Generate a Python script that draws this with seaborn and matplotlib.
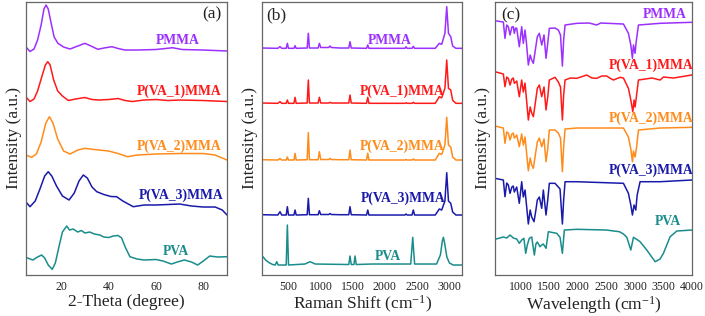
import pandas as pd
import matplotlib
matplotlib.use('Agg')
import matplotlib.pyplot as plt
import seaborn as sns

sns.set_theme(style='white')
plt.rcParams['font.family'] = ['Liberation Serif', 'DejaVu Serif']
plt.rcParams['mathtext.fontset'] = 'custom'
plt.rcParams['mathtext.rm'] = 'Liberation Serif'
plt.rcParams['mathtext.it'] = 'Liberation Serif:italic'

samples = ['PMMA', 'P(VA_1)MMA', 'P(VA_2)MMA', 'P(VA_3)MMA', 'PVA']
colors = ['#9B30FF', '#FF1A1A', '#FF8C1A', '#1A1AAA', '#1A8C8C']

# ---------------- (a) XRD ----------------
xrd_pmma_t = [5, 6.8, 8.5, 10, 11.5, 12.7, 13.6, 14.5, 15.9, 17, 18.6, 21, 23.7, 27, 30, 33, 35.5, 38, 41.4, 44, 46.9, 52, 60, 64, 67, 71, 80, 90]
xrd_pmma_i = [228.3, 223.5, 226, 235, 250, 266, 270, 266, 250, 238, 231.7, 228, 226, 229, 231.7, 228.5, 225.7, 227, 228.3, 226.5, 225, 225, 225.5, 226.5, 227.3, 225.5, 225, 224]
xrd_va1_t = [5, 6.8, 8.5, 10, 12, 13.3, 14.3, 15.3, 16.8, 18.5, 20.5, 23, 26, 30, 33, 36, 40, 44, 47, 50, 55, 60, 65, 70, 80, 90]
xrd_va1_i = [178.3, 173.5, 176, 184, 200, 210, 213.3, 210, 195, 184, 179, 174.5, 176, 177.5, 175.5, 175, 175.5, 176.5, 174.5, 173.5, 175, 175.5, 174.5, 175, 174.5, 173.5]
xrd_va2_t = [5, 7.5, 9.5, 11.5, 13.5, 15, 16.5, 18.5, 21, 23.7, 27, 30, 34, 40, 44, 48, 52, 60, 70, 80, 85, 90]
xrd_va2_i = [120, 117.7, 121, 133, 152, 158.3, 152, 136, 124, 121, 125, 126.7, 125.5, 124, 121.5, 118.3, 120, 121, 121.5, 121.5, 120, 115]
xrd_va3_t = [5, 6.8, 9, 11, 13, 14.5, 16, 18, 20.5, 23.3, 25.5, 27.5, 29.3, 31, 33, 35, 38, 41, 43.4, 46, 50.4, 55, 60, 65, 70, 75, 80, 85, 88, 90]
xrd_va3_i = [73.3, 68.3, 74, 86, 99, 103.3, 99, 89, 79, 75, 82, 94, 100, 97, 88, 83.3, 80.5, 78.5, 78.3, 74, 68.3, 70, 70, 70.5, 71, 69, 68, 68, 65, 60]
xrd_pva_t = [5, 8, 10, 11.7, 13, 14.5, 16.2, 17.5, 19, 20.5, 22.3, 23.5, 25, 27, 28.5, 30, 32, 34, 36.3, 38, 40, 42, 44, 45.5, 47, 49, 52, 55, 60, 63, 66.5, 69, 72, 75, 77.6, 80, 82.7, 86, 90]
xrd_pva_i = [17.7, 15, 18, 20, 17, 10, 5.7, 12, 28, 43, 49, 45, 46, 43, 44.5, 42, 43, 41, 40, 38, 37.5, 39, 39.5, 37, 28, 18.3, 16, 15, 15.5, 14, 11, 13, 15, 13, 10, 14, 19, 18, 18.3]

# ---------------- (b) Raman ----------------
raman_shift = [100, 340, 374, 400, 470, 488, 505, 590, 607, 625, 795, 813, 830, 965, 984, 1005, 1130, 1149, 1170, 1300, 1440, 1459, 1478,
               1715, 1734, 1752, 2000, 2310, 2327, 2345, 2420, 2440, 2460, 2780, 2843, 2880, 2930, 2958, 2985, 3020, 3050, 3100, 3200]
raman_pmma = [227, 226.7, 228.4, 226.7, 226.7, 231.7, 226.7, 226.7, 229.3, 226.7, 227, 241.7, 227, 227, 231.7, 227.5, 227.5, 229, 227.5, 227, 227, 233.3, 227,
              226.7, 230, 226.7, 226.7, 226.7, 228.2, 226.7, 226.7, 228.7, 226.7, 226.7, 231.7, 230.7, 241.7, 268.3, 241.7, 238.3, 229, 226.7, 226.7]
raman_va1 = [172, 171.7, 173.4, 171.7, 171.7, 175, 171.7, 171.7, 177.7, 171.7, 172, 195, 172, 172, 177.7, 172, 172, 172.7, 172, 172, 172, 180, 172,
             171.7, 177.7, 171.7, 171.7, 171.7, 172.2, 171.7, 171.7, 172.7, 171.7, 171.7, 178.3, 177.2, 186.7, 215, 186.7, 185, 174.7, 171.7, 171.7]
raman_va2 = [115.3, 115, 116.5, 115, 115, 118, 115, 115, 121.7, 115, 115.3, 142.3, 115.3, 115.3, 123.3, 115.5, 115.5, 116.5, 115.5, 115.3, 115.3, 125, 115.3,
             115, 121.7, 115, 115, 115, 115.5, 115, 115, 116, 115, 115, 121.7, 120.5, 130, 157.7, 130, 128, 118, 115, 115]
raman_va3 = [60.3, 60, 63.3, 60, 60, 68.3, 60, 60, 65, 60, 60.3, 76.7, 60.3, 60.3, 64.3, 60.5, 60.5, 61.5, 60.5, 60.3, 60.3, 68.3, 60.3,
             60, 65, 60, 60, 60, 61, 60, 60, 65, 60, 60, 66, 65, 74, 102.3, 74, 71.7, 63, 60, 60]
raman_pva_shift = [110, 150, 200, 260, 300, 323, 345, 470, 488, 506, 760, 840, 920, 1440, 1459, 1478, 1520, 1537, 1555, 1800, 2400, 2431, 2460,
                   2800, 2860, 2890, 2906, 2925, 2960, 3000, 3060, 3200]
raman_pva = [18.3, 15, 12.5, 10.5, 10, 13.3, 10, 10, 50, 10, 11, 13.3, 11, 10.5, 19, 10.5, 10.5, 19, 10.5, 11, 11, 37.7, 11,
             11, 20, 34, 37.7, 32, 18, 12, 10, 10]

# ---------------- (c) FTIR ----------------
ftir_pmma_w = [555, 701, 730, 760, 788, 818, 850, 875, 893, 915, 935, 980, 1022, 1050, 1080, 1105, 1138, 1170, 1197, 1225, 1260, 1295, 1330, 1372, 1412,
               1447, 1477, 1505, 1605, 1662, 1700, 1733, 1755, 1780, 1985, 2200, 2334, 2400, 2800, 2887, 2929, 2957, 2975, 3004, 3020, 3062, 3441, 3600, 3995]
ftir_pmma_t = [254.3, 253, 236.7, 250, 248.3, 240, 248, 248.3, 241.7, 247, 246.7, 228.3, 248.3, 231.7, 245, 232, 210, 220, 215, 211.7, 225, 238.3, 241.7, 230, 240,
               216.7, 231.7, 246.7, 247, 245, 240, 209, 235, 250, 251.7, 252, 250, 252, 251, 241.7, 230, 216.7, 230, 221.7, 232, 250, 251.7, 252, 252.7]
ftir_va1_w = [555, 701, 730, 760, 788, 818, 850, 875, 893, 935, 980, 1022, 1050, 1080, 1138, 1170, 1197, 1225, 1260, 1295, 1330, 1372, 1412, 1447, 1477,
              1505, 1605, 1662, 1700, 1733, 1755, 1780, 1870, 1985, 2159, 2250, 2334, 2420, 2509, 2560, 2625, 2742, 2800, 2887, 2929, 2964, 2986, 3004,
              3030, 3062, 3300, 3441, 3500, 3674, 3995]
ftir_va1_t = [203.3, 201, 188.3, 198, 196.7, 190, 196, 197, 191.7, 194, 178.3, 195, 183, 192, 155, 168, 162, 158.3, 172, 186.7, 190, 178.3, 188, 165, 178,
              195, 197.7, 193, 188, 155, 180, 195, 197, 196.7, 200, 197, 196.7, 199, 199, 197, 195, 197.7, 197, 186.7, 175, 163.3, 175, 168,
              180, 195, 197, 195, 198, 197, 200]
ftir_va2_w = [555, 701, 730, 760, 788, 818, 850, 875, 893, 935, 980, 1022, 1050, 1080, 1138, 1170, 1197, 1225, 1260, 1295, 1330, 1372, 1412, 1447, 1477,
              1505, 1605, 1662, 1700, 1733, 1755, 1780, 1985, 2334, 2800, 2887, 2929, 2957, 2975, 3004, 3030, 3062, 3441, 3995]
ftir_va2_t = [149, 147, 131.7, 143, 142, 135, 141, 142, 137, 140, 128.3, 141, 130, 138, 104.3, 117, 110, 106.7, 120, 133, 137, 128.3, 136, 113.3, 126,
              145, 145, 142, 137, 103.3, 128, 146, 147, 147, 147, 138, 126, 113.3, 124, 118, 128, 145, 147, 147.7]
ftir_va3_w = [555, 701, 730, 760, 788, 818, 850, 875, 893, 935, 980, 1022, 1050, 1080, 1138, 1170, 1197, 1237, 1270, 1295, 1330, 1372, 1400, 1447, 1477,
              1505, 1605, 1692, 1733, 1755, 1780, 1985, 2800, 2887, 2929, 2957, 2986, 3016, 3040, 3091, 3441, 3995]
ftir_va3_t = [96.7, 95, 78.3, 92, 90, 81.7, 88, 89, 83, 88, 71.7, 93.3, 78, 85, 51, 65, 58, 53.3, 65, 75, 78, 66.7, 85, 60, 75,
              91.7, 91.7, 86, 51, 75, 93.3, 93.3, 91.7, 81.7, 70, 60, 70, 65, 80, 93.3, 93.3, 95]
ftir_pva_w = [555, 701, 760, 818, 875, 935, 980, 1022, 1060, 1092, 1120, 1155, 1197, 1243, 1270, 1295, 1342, 1372, 1400, 1447, 1488, 1634, 1692,
              1733, 1767, 1985, 2500, 2730, 2800, 2859, 2929, 2975, 3050, 3091, 3208, 3354, 3440, 3499, 3616, 3733, 3995]
ftir_pva_t = [35.7, 38, 37, 40, 37, 36, 31.7, 35, 36.7, 21.7, 30, 36.7, 38, 20, 31, 33, 28.3, 30, 31, 26.7, 43.3, 41.7, 37.7,
              21.7, 45, 45.7, 45, 43.3, 41, 37.7, 25, 37.7, 35, 33.3, 25, 13.3, 16, 21.7, 38.3, 44, 45]

# label anchors (x in data units, y in a.u.)
lab_a = [(69.2, 235), (69.6, 183.3), (69.6, 128.3), (70.5, 80), (68.6, 23.3)]
lab_b = [(2079, 235), (2261, 183.3), (2261, 128.3), (2281, 76.7), (2048, 19)]
lab_c = [(3529, 261), (3284, 210), (3284, 156.7), (3284, 105), (3581, 53.3)]


def long_df(pairs):
    frames = []
    for name, (x, y) in zip(samples, pairs):
        frames.append(pd.DataFrame({'x': x, 'y': y, 'sample': name}))
    return pd.concat(frames, ignore_index=True)


df_a = long_df([(xrd_pmma_t, xrd_pmma_i), (xrd_va1_t, xrd_va1_i), (xrd_va2_t, xrd_va2_i),
                (xrd_va3_t, xrd_va3_i), (xrd_pva_t, xrd_pva_i)])
df_b = long_df([(raman_shift, raman_pmma), (raman_shift, raman_va1), (raman_shift, raman_va2),
                (raman_shift, raman_va3), (raman_pva_shift, raman_pva)])
df_c = long_df([(ftir_pmma_w, ftir_pmma_t), (ftir_va1_w, ftir_va1_t), (ftir_va2_w, ftir_va2_t),
                (ftir_va3_w, ftir_va3_t), (ftir_pva_w, ftir_pva_t)])

fig = plt.figure(figsize=(7.05, 3.16), dpi=100)
ax_a = fig.add_axes([0.0365, 0.1297, 0.2855, 0.8655])
ax_b = fig.add_axes([0.3721, 0.1297, 0.2837, 0.8655])
ax_c = fig.add_axes([0.7017, 0.1297, 0.2800, 0.8655])

panels = [
    (ax_a, df_a, (5, 90), [20, 40, 60, 80], 5, '2-Theta (degree)', '(a)', (83.5, 261), lab_a),
    (ax_b, df_b, (100, 3200), [500, 1000, 1500, 2000, 2500, 3000], 250,
     'Raman Shift (cm$^{\\mathregular{-1}}$)', '(b)', (312, 260), lab_b),
    (ax_c, df_c, (550, 4000), [1000, 1500, 2000, 2500, 3000, 3500, 4000], 250,
     'Wavelength (cm$^{\\mathregular{-1}}$)', '(c)', (826, 260), lab_c),
]

for ax, df, xlim, ticks, minor, xlabel, tag, tag_pos, labs in panels:
    sns.lineplot(data=df, x='x', y='y', hue='sample', palette=colors, hue_order=samples,
                 estimator=None, sort=False, legend=False, linewidth=1.1, ax=ax)
    ax.set_xlim(*xlim)
    ax.set_ylim(0, 273.5)
    ax.set_xticks(ticks)
    ax.set_xticks([t for t in range(xlim[0] - xlim[0] % minor, xlim[1] + 1, minor)
                   if t not in ticks and xlim[0] <= t <= xlim[1]], minor=True)
    ax.set_yticks([])
    ax.tick_params(axis='x', which='major', direction='in', length=3, width=0.7,
                   labelsize=8.5, pad=4, colors='#444444', labelcolor='#222222')
    ax.tick_params(axis='x', which='minor', direction='in', length=2, width=0.6, colors='#444444')
    for s in ax.spines.values():
        s.set_color('#666666')
        s.set_linewidth(0.9)
    ax.set_xlabel(xlabel, fontsize=12.5, labelpad=1, color='#222222')
    ax.set_ylabel('Intensity (a.u.)', fontsize=12.5, labelpad=3, color='#222222')
    ax.text(tag_pos[0], tag_pos[1], tag, fontsize=12.5, ha='center', va='center', color='#222222')
    for (lx, ly), name, c in zip(labs, samples, colors):
        ax.text(lx, ly, name, fontsize=9.8, fontweight='bold', color=c, ha='center', va='center')

fig.savefig('out.png', dpi=100)
